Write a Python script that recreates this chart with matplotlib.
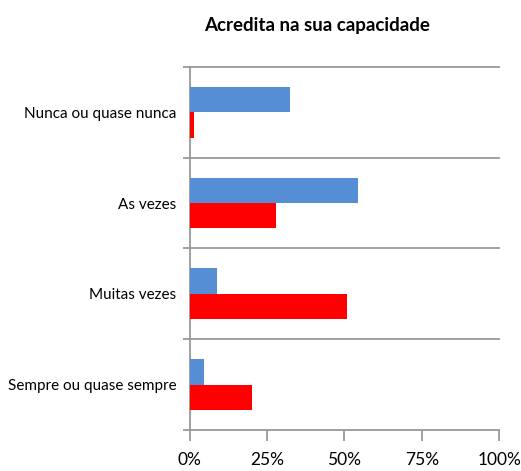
import numpy as np
import matplotlib
matplotlib.use("Agg")
import matplotlib.pyplot as plt
from matplotlib.ticker import PercentFormatter

plt.rcParams['font.family'] = ['Lato', 'DejaVu Sans']

categorias = ["Nunca ou quase nunca", "As vezes", "Muitas vezes", "Sempre ou quase sempre"]
serie_azul = [32.4, 54.4, 8.8, 4.5]
serie_verm = [1.5, 27.8, 50.8, 20.1]
ticks_x = [0, 25, 50, 75, 100]

fig = plt.figure(figsize=(5.21, 4.71), dpi=100)
ax = fig.add_axes([0.364, 0.087, 0.594, 0.771])

y = np.arange(len(categorias))
h = 0.28
ax.barh(y - h/2, serie_azul, height=h, color="#558ed5", zorder=3)
ax.barh(y + h/2, serie_verm, height=h, color="#ff0000", zorder=3)

ax.set_ylim(len(categorias) - 0.5, -0.5)
ax.set_xlim(0, 100)

# linhas entre categorias
for b in np.arange(-0.5, len(categorias), 1.0):
    ax.axhline(b, color="#999999", lw=1.3, zorder=1, clip_on=False)

ax.set_yticks(np.arange(-0.5, len(categorias), 1.0))
ax.set_yticklabels([])
ax.set_yticks(y, minor=True)
ax.set_yticklabels(categorias, minor=True, fontsize=11)
ax.tick_params(axis="y", which="major", length=5, color="#999999", width=1.3)
ax.tick_params(axis="y", which="minor", length=0, pad=9.5)

ax.set_xticks(ticks_x)
ax.xaxis.set_major_formatter(PercentFormatter(decimals=0))
ax.tick_params(axis="x", length=8, color="#999999", width=1.3, labelsize=12.5, pad=8)

for s in ["top", "right", "bottom"]:
    ax.spines[s].set_visible(False)
ax.spines["left"].set_color("#999999")
ax.spines["left"].set_linewidth(1.3)

fig.text(0.608, 0.945, "Acredita na sua capacidade", ha="center", va="center",
         fontsize=13.5, fontweight="bold")

fig.savefig("out.png", dpi=100)
